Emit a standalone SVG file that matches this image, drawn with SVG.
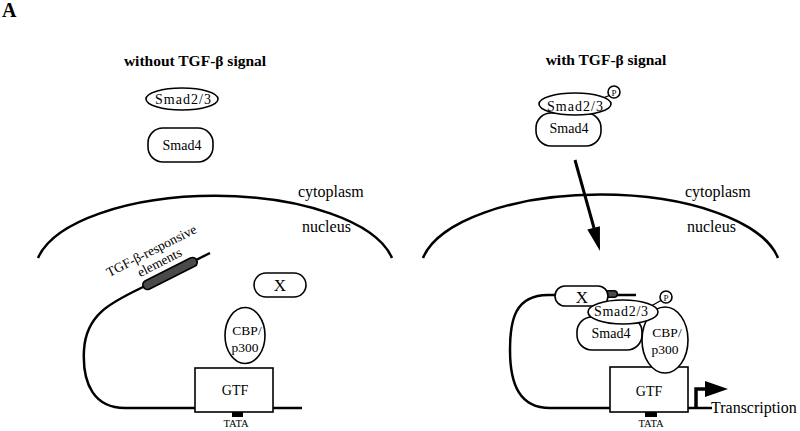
<svg xmlns="http://www.w3.org/2000/svg" width="800" height="431" viewBox="0 0 800 431">
<style>
.t{font-family:"Liberation Serif","Times New Roman",serif;fill:#000}
.b{font-weight:bold}
.n{fill:#fff;stroke:#000;stroke-width:1.6}
.ln{fill:none;stroke:#000;stroke-width:2.5}
.c{text-anchor:middle}
</style>
<rect width="800" height="431" fill="#fff"/>
<text class="t b" x="2" y="17" font-size="20">A</text>
<text class="t b c" x="195" y="66" font-size="15.5">without TGF-β signal</text>
<text class="t b c" x="606" y="65" font-size="15.5">with TGF-β signal</text>

<g id="membranes">
<path class="ln" d="M38 258 A180 76 0 0 1 392 258"/>
<path class="ln" d="M423 258 A180 76 0 0 1 778 258"/>
<text class="t" x="298" y="197" font-size="16">cytoplasm</text>
<text class="t" x="302" y="232" font-size="16">nucleus</text>
<text class="t" x="685" y="197" font-size="16">cytoplasm</text>
<text class="t" x="687" y="232" font-size="16">nucleus</text>
</g>

<g id="connectors">
<path class="ln" d="M210 253 L140 288.5 C110 303 86 315 84 350 C82 385 95 408 125 408 L302 408"/>
<line x1="147.5" y1="284.8" x2="192.5" y2="262.2" stroke="#000" stroke-width="11" stroke-linecap="round"/>
<line x1="147.5" y1="284.8" x2="192.5" y2="262.2" stroke="#4a4a4a" stroke-width="7.5" stroke-linecap="round"/>
<path class="ln" d="M636 295 L548 295 C515 295 510 320 510 350 C510 385 520 408 550 408 L610 408"/>
<line x1="596" y1="294" x2="614" y2="294" stroke="#000" stroke-width="8" stroke-linecap="round"/>
<line x1="596" y1="294" x2="614" y2="294" stroke="#4a4a4a" stroke-width="5" stroke-linecap="round"/>
<path class="ln" d="M688 408 L712 408"/>
<path d="M696 409 L696 389 L707 389" fill="none" stroke="#000" stroke-width="3.5"/>
<polygon points="705,381 705,397 728,389" fill="#000"/>
<line x1="575" y1="160" x2="594" y2="228" stroke="#000" stroke-width="3"/>
<polygon points="600,251 599.9,226.2 587.3,229.6" fill="#000"/>
<line x1="604" y1="97.5" x2="609.5" y2="95.5" stroke="#000" stroke-width="1.3"/>
<line x1="652" y1="305.5" x2="661" y2="300.5" stroke="#000" stroke-width="1.3"/>
</g>

<g id="tre-label" transform="translate(152,252) rotate(-27)">
<text class="t c" x="0" y="3" font-size="13.5">TGF-β-responsive</text>
<text class="t c" x="2" y="17" font-size="13.5">elements</text>
</g>

<g id="smad23-left">
<ellipse class="n" cx="182" cy="99" rx="36" ry="11"/>
<text class="t c" x="183" y="104" font-size="14" textLength="56">Smad2/3</text>
</g>
<g id="smad4-left">
<rect class="n" x="148" y="128" width="65" height="34" rx="15"/>
<text class="t c" x="182" y="150" font-size="14">Smad4</text>
</g>
<g id="x-left">
<rect class="n" x="254" y="273" width="52" height="24" rx="12"/>
<text class="t c" x="280" y="291" font-size="17">X</text>
</g>
<g id="gtf-left">
<rect class="n" x="195" y="368" width="78" height="44"/>
<text class="t c" x="235" y="395" font-size="14">GTF</text>
<rect x="232" y="412" width="11" height="5" fill="#000"/>
<text class="t c" x="236" y="427" font-size="10.5">TATA</text>
</g>
<g id="cbp-left">
<ellipse class="n" cx="245" cy="335.5" rx="20" ry="28"/>
<text class="t c" x="247" y="335" font-size="13.5">CBP/</text>
<text class="t c" x="245" y="352" font-size="13.5">p300</text>
</g>

<g id="smad4-right-top">
<rect class="n" x="536" y="113" width="65" height="33" rx="15"/>
<text class="t c" x="569" y="133" font-size="14">Smad4</text>
</g>
<g id="smad23-right-top">
<ellipse class="n" cx="575" cy="104" rx="36" ry="11"/>
<text class="t c" x="575" y="111" font-size="14" textLength="56">Smad2/3</text>
<circle class="n" cx="614" cy="92" r="6" stroke-width="1.2"/>
<text class="t c" x="614" y="95.5" font-size="9">P</text>
</g>

<g id="gtf-right">
<rect class="n" x="610" y="367" width="78" height="45"/>
<text class="t c" x="649" y="396" font-size="14">GTF</text>
<rect x="645" y="412" width="12" height="5" fill="#000"/>
<text class="t c" x="651" y="427" font-size="10.5">TATA</text>
<text class="t" x="711" y="413" font-size="16">Transcription</text>
</g>
<g id="smad4-right">
<rect class="n" x="577" y="317" width="65" height="33" rx="15"/>
<text class="t c" x="611" y="338" font-size="14">Smad4</text>
</g>
<g id="cbp-right">
<ellipse class="n" cx="665" cy="340" rx="23" ry="33"/>
<text class="t c" x="667" y="337" font-size="13.5">CBP/</text>
<text class="t c" x="665" y="354" font-size="13.5">p300</text>
</g>
<g id="x-right">
<rect class="n" x="555" y="286" width="53" height="20" rx="10"/>
<text class="t c" x="582" y="303" font-size="17">X</text>
</g>
<g id="smad23-right">
<ellipse class="n" cx="623" cy="312" rx="35" ry="12"/>
<text class="t c" x="621" y="316" font-size="14" textLength="54">Smad2/3</text>
<circle class="n" cx="666" cy="297" r="6" stroke-width="1.2"/>
<text class="t c" x="666" y="300.5" font-size="9">P</text>
</g>
</svg>
